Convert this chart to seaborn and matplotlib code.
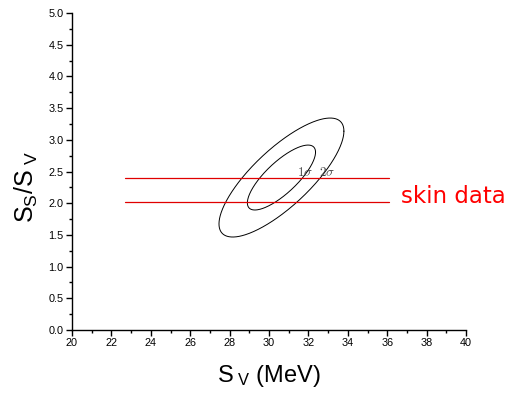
import numpy as np
import pandas as pd
import matplotlib
matplotlib.use('Agg')
import matplotlib.pyplot as plt
from matplotlib.ticker import MultipleLocator
import seaborn as sns

# confidence ellipse parameters
center = [30.63, 2.405]
sig_x = 1.0
sig_y = 0.296
rho = 0.78
levels = [1.73, 3.17]          # 1 sigma, 2 sigma scale
level_names = [r'$1\sigma$', r'$2\sigma$']
label_x = [31.85, 32.95]
label_y = 2.48

# skin data band
skin_bounds = [2.02, 2.40]
skin_x = [22.7, 36.1]

sns.set_style('ticks')
plt.rcParams['font.family'] = ['Liberation Sans', 'DejaVu Sans']
plt.rcParams['mathtext.fontset'] = 'custom'
plt.rcParams['mathtext.rm'] = 'Liberation Sans'
plt.rcParams['mathtext.it'] = 'Liberation Sans:italic'
plt.rcParams['text.color'] = 'black'
plt.rcParams['axes.labelcolor'] = 'black'
plt.rcParams['xtick.color'] = 'black'
plt.rcParams['ytick.color'] = 'black'

fig = plt.figure(figsize=(5.15, 3.94), dpi=100)
ax = fig.add_axes([0.1398, 0.1624, 0.7652, 0.8046])

t = np.linspace(0, 2 * np.pi, 400)
for k in levels:
    u = np.cos(t)
    v = rho * np.cos(t) + np.sqrt(1 - rho ** 2) * np.sin(t)
    df = pd.DataFrame({'x': center[0] + k * sig_x * u,
                       'y': center[1] + k * sig_y * v})
    sns.lineplot(data=df, x='x', y='y', sort=False, color='black',
                 lw=0.7, ax=ax, estimator=None)

for b in skin_bounds:
    sns.lineplot(x=skin_x, y=[b, b], color='#e00000', lw=0.9, ax=ax)

for name, lx in zip(level_names, label_x):
    ax.text(lx, label_y, name, fontsize=9.5, color='#444444',
            ha='center', va='center', math_fontfamily='cm')

ax.text(36.7, 2.1, 'skin data', color='red', fontsize=16.5,
        ha='left', va='center', clip_on=False, family='DejaVu Sans')

ax.set_xlim(20, 40)
ax.set_ylim(0, 5)
ax.xaxis.set_major_locator(MultipleLocator(2))
ax.xaxis.set_minor_locator(MultipleLocator(1))
ax.yaxis.set_major_locator(MultipleLocator(0.5))
ax.yaxis.set_minor_locator(MultipleLocator(0.25))
ax.yaxis.set_major_formatter(matplotlib.ticker.FormatStrFormatter('%.1f'))
ax.tick_params(which='major', direction='out', length=4, width=1, labelsize=7.8, pad=2)
ax.tick_params(which='minor', direction='out', length=2.5, width=1)
for s in ['left', 'bottom']:
    ax.spines[s].set_linewidth(1)
    ax.spines[s].set_color('black')
sns.despine(ax=ax)

ax.set_xlabel(r'S$_{\ \mathrm{V}}$ (MeV)', fontsize=17)
ax.xaxis.set_label_coords(0.5, -0.105)
ax.set_ylabel(r'S$_\mathrm{S}$/S$_{\ \mathrm{V}}$', fontsize=18)
ax.yaxis.set_label_coords(-0.08, 0.45)

fig.savefig('out.png', dpi=100)
